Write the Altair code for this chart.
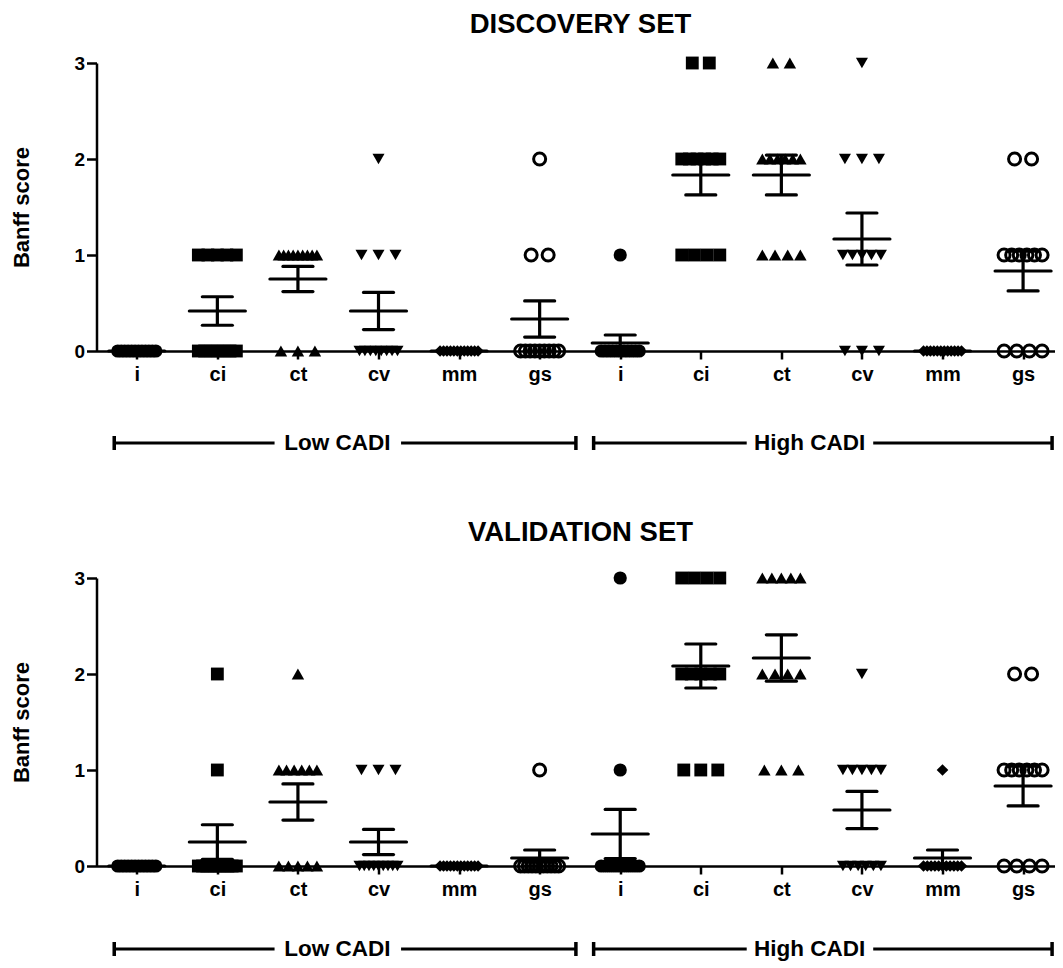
import altair as alt
import pandas as pd
import numpy as np

# ---------------- data (Banff scores of each patient) ----------------
CATEGORIES = ["i", "ci", "ct", "cv", "mm", "gs"]
GROUPS = ["Low CADI", "High CADI"]
PANELS = ["DISCOVERY SET", "VALIDATION SET"]

# Discovery set - Low CADI
disc_low_i = [0, 0, 0, 0, 0, 0, 0, 0, 0, 0, 0, 0]
disc_low_ci = [1, 1, 1, 1, 1, 0, 0, 0, 0, 0, 0, 0]
disc_low_ct = [1, 1, 1, 1, 1, 1, 1, 1, 1, 0, 0, 0]
disc_low_cv = [2, 1, 1, 1, 0, 0, 0, 0, 0, 0, 0, 0]
disc_low_mm = [0, 0, 0, 0, 0, 0, 0, 0, 0, 0, 0, 0]
disc_low_gs = [2, 1, 1, 0, 0, 0, 0, 0, 0, 0, 0, 0]
# Discovery set - High CADI
disc_high_i = [1, 0, 0, 0, 0, 0, 0, 0, 0, 0, 0, 0]
disc_high_ci = [3, 3, 2, 2, 2, 2, 2, 2, 1, 1, 1, 1]
disc_high_ct = [3, 3, 2, 2, 2, 2, 2, 2, 1, 1, 1, 1]
disc_high_cv = [3, 2, 2, 2, 1, 1, 1, 1, 1, 0, 0, 0]
disc_high_mm = [0, 0, 0, 0, 0, 0, 0, 0, 0, 0, 0, 0]
disc_high_gs = [2, 2, 1, 1, 1, 1, 1, 1, 0, 0, 0, 0]
# Validation set - Low CADI
val_low_i = [0, 0, 0, 0, 0, 0, 0, 0, 0, 0, 0, 0]
val_low_ci = [2, 1, 0, 0, 0, 0, 0, 0, 0, 0, 0, 0]
val_low_ct = [2, 1, 1, 1, 1, 1, 1, 0, 0, 0, 0, 0]
val_low_cv = [1, 1, 1, 0, 0, 0, 0, 0, 0, 0, 0, 0]
val_low_mm = [0, 0, 0, 0, 0, 0, 0, 0, 0, 0, 0, 0]
val_low_gs = [1, 0, 0, 0, 0, 0, 0, 0, 0, 0, 0, 0]
# Validation set - High CADI
val_high_i = [3, 1, 0, 0, 0, 0, 0, 0, 0, 0, 0, 0]
val_high_ci = [3, 3, 3, 3, 2, 2, 2, 2, 2, 1, 1, 1]
val_high_ct = [3, 3, 3, 3, 3, 2, 2, 2, 2, 1, 1, 1]
val_high_cv = [2, 1, 1, 1, 1, 1, 0, 0, 0, 0, 0, 0]
val_high_mm = [1, 0, 0, 0, 0, 0, 0, 0, 0, 0, 0, 0]
val_high_gs = [2, 2, 1, 1, 1, 1, 1, 1, 0, 0, 0, 0]

SCORES = {
    "DISCOVERY SET": {
        "Low CADI": [disc_low_i, disc_low_ci, disc_low_ct, disc_low_cv, disc_low_mm, disc_low_gs],
        "High CADI": [disc_high_i, disc_high_ci, disc_high_ct, disc_high_cv, disc_high_mm, disc_high_gs],
    },
    "VALIDATION SET": {
        "Low CADI": [val_low_i, val_low_ci, val_low_ct, val_low_cv, val_low_mm, val_low_gs],
        "High CADI": [val_high_i, val_high_ci, val_high_ct, val_high_cv, val_high_mm, val_high_gs],
    },
}

# ---------------- layout constants ----------------
X_MAX = 11.89
W, H = 958, 288
STEP = W / X_MAX
FONT = "Liberation Sans"
MAX_SPREAD_PX = 38.0
MAX_GAP_PX = 17.0
MEAN_HALF = 28.0 / STEP
CAP_HALF = 15.0 / STEP
BRACKET_Y = {"DISCOVERY SET": 380, "VALIDATION SET": 371}
TITLE_OFFSET = {"DISCOVERY SET": 16, "VALIDATION SET": 23}
BRACKET_CAP = 7
LABEL_CENTERS = {"Low CADI": 2.99, "High CADI": 8.85}
BRACKET_ENDS = {"Low CADI": (0.22, 5.95), "High CADI": (6.17, 11.86)}
GAP_L, GAP_R = 0.78, 0.79

TICK_POS = [i + 0.5 for i in range(12)]
label_list = "[" + ",".join("'%s'" % c for c in CATEGORIES * 2) + "]"


def build_frames(panel):
    pts, stats = [], []
    for gi, g in enumerate(GROUPS):
        for ci, cat in enumerate(CATEGORIES):
            vals = SCORES[panel][g][ci]
            center = gi * 6 + ci + 0.5
            arr = np.array(vals, dtype=float)
            for v in sorted(set(vals), reverse=True):
                k = vals.count(v)
                gap = 0.0 if k == 1 else min(MAX_GAP_PX, MAX_SPREAD_PX / (k - 1))
                for j in range(k):
                    off = (j - (k - 1) / 2.0) * gap / STEP
                    pts.append({"cat": cat, "group": g, "x": center + off, "score": v})
            mean = arr.mean()
            sem = arr.std(ddof=1) / np.sqrt(len(arr))
            stats.append({
                "cat": cat, "group": g, "pos": center, "mean": mean,
                "lo": mean - sem, "hi": mean + sem,
                "m1": center - MEAN_HALF, "m2": center + MEAN_HALF,
                "c1": center - CAP_HALF, "c2": center + CAP_HALF,
            })
    return pd.DataFrame(pts), pd.DataFrame(stats)


x_scale = alt.Scale(domain=[0, X_MAX], nice=False, zero=False)
y_scale = alt.Scale(domain=[0, 3], nice=False)
x_axis = alt.Axis(values=TICK_POS, labelExpr=label_list + "[floor(datum.value)]",
                  title=None, grid=False, tickSize=8, tickWidth=2.5, domainWidth=2.5,
                  labelFontSize=20, labelPadding=5, labelFontWeight="bold")
y_axis = alt.Axis(values=[0, 1, 2, 3], format="d", title="Banff score", grid=False,
                  tickSize=10, tickWidth=2.5, domainWidth=2.5, labelFontSize=19,
                  labelPadding=2, labelFontWeight="bold", titleFontSize=22,
                  titleFontWeight="bold", titlePadding=40)

brackets = pd.DataFrame([
    {"label": g, "start": BRACKET_ENDS[g][0], "end": BRACKET_ENDS[g][1],
     "center": LABEL_CENTERS[g], "gl": LABEL_CENTERS[g] - GAP_L, "gr": LABEL_CENTERS[g] + GAP_R}
    for g in GROUPS
])


def panel_chart(panel):
    pts, stats = build_frames(panel)
    by = BRACKET_Y[panel]
    filled = alt.Chart(pts[pts.cat != "gs"]).mark_point(filled=True, opacity=1, color="black").encode(
        x=alt.X("x:Q", scale=x_scale, axis=x_axis),
        y=alt.Y("score:Q", scale=y_scale, axis=y_axis),
        shape=alt.Shape("cat:N", scale=alt.Scale(domain=CATEGORIES[:5],
                        range=["circle", "square", "triangle-up", "triangle-down", "diamond"]), legend=None),
        size=alt.Size("cat:N", scale=alt.Scale(domain=CATEGORIES[:5], range=[175, 135, 190, 190, 230]), legend=None),
    )
    hollow = alt.Chart(pts[pts.cat == "gs"]).mark_point(
        shape="circle", filled=False, opacity=1, color="black", strokeWidth=3, size=145
    ).encode(
        x=alt.X("x:Q", scale=x_scale, axis=x_axis),
        y=alt.Y("score:Q", scale=y_scale, axis=y_axis),
    )
    base = alt.Chart(stats)
    rule_kw = dict(color="black", strokeWidth=3.2, strokeCap="round")
    mean_line = base.mark_rule(**rule_kw).encode(
        x=alt.X("m1:Q", scale=x_scale, axis=x_axis), x2="m2:Q",
        y=alt.Y("mean:Q", scale=y_scale, axis=y_axis))
    cap_hi = base.mark_rule(**rule_kw).encode(
        x=alt.X("c1:Q", scale=x_scale, axis=x_axis), x2="c2:Q",
        y=alt.Y("hi:Q", scale=y_scale, axis=y_axis))
    cap_lo = base.mark_rule(**rule_kw).encode(
        x=alt.X("c1:Q", scale=x_scale, axis=x_axis), x2="c2:Q",
        y=alt.Y("lo:Q", scale=y_scale, axis=y_axis))
    stem = base.mark_rule(color="black", strokeWidth=3.2).encode(
        x=alt.X("pos:Q", scale=x_scale, axis=x_axis),
        y=alt.Y("lo:Q", scale=y_scale, axis=y_axis), y2="hi:Q")

    bb = alt.Chart(brackets)
    seg_l = bb.mark_rule(color="black", strokeWidth=3).encode(
        x=alt.X("start:Q", scale=x_scale, axis=x_axis), x2="gl:Q", y=alt.value(by))
    seg_r = bb.mark_rule(color="black", strokeWidth=3).encode(
        x=alt.X("gr:Q", scale=x_scale, axis=x_axis), x2="end:Q", y=alt.value(by))
    end_l = bb.mark_rule(color="black", strokeWidth=3.5).encode(
        x=alt.X("start:Q", scale=x_scale, axis=x_axis),
        y=alt.value(by - BRACKET_CAP), y2=alt.value(by + BRACKET_CAP))
    end_r = bb.mark_rule(color="black", strokeWidth=3.5).encode(
        x=alt.X("end:Q", scale=x_scale, axis=x_axis),
        y=alt.value(by - BRACKET_CAP), y2=alt.value(by + BRACKET_CAP))
    txt = bb.mark_text(font=FONT, fontSize=22.5, fontWeight="bold", color="black",
                       align="center", baseline="middle").encode(
        x=alt.X("center:Q", scale=x_scale, axis=x_axis), y=alt.value(by), text="label:N")

    return alt.layer(filled, hollow, stem, mean_line, cap_hi, cap_lo,
                     seg_l, seg_r, end_l, end_r, txt).properties(
        width=W, height=H,
        title=alt.TitleParams(panel, font=FONT, fontSize=27.5, fontWeight="bold",
                              anchor="middle", color="black", offset=TITLE_OFFSET[panel], dx=5),
    )


chart = alt.vconcat(panel_chart(PANELS[0]), panel_chart(PANELS[1]), spacing=63).properties(
    padding={"left": 2.5, "top": 2, "right": 0, "bottom": 0}
).configure_view(stroke=None).configure_axis(
    labelFont=FONT, titleFont=FONT, labelColor="black", titleColor="black",
    domainColor="black", tickColor="black"
)

chart.save("out.html", embed_options={"renderer": "svg", "actions": False})
